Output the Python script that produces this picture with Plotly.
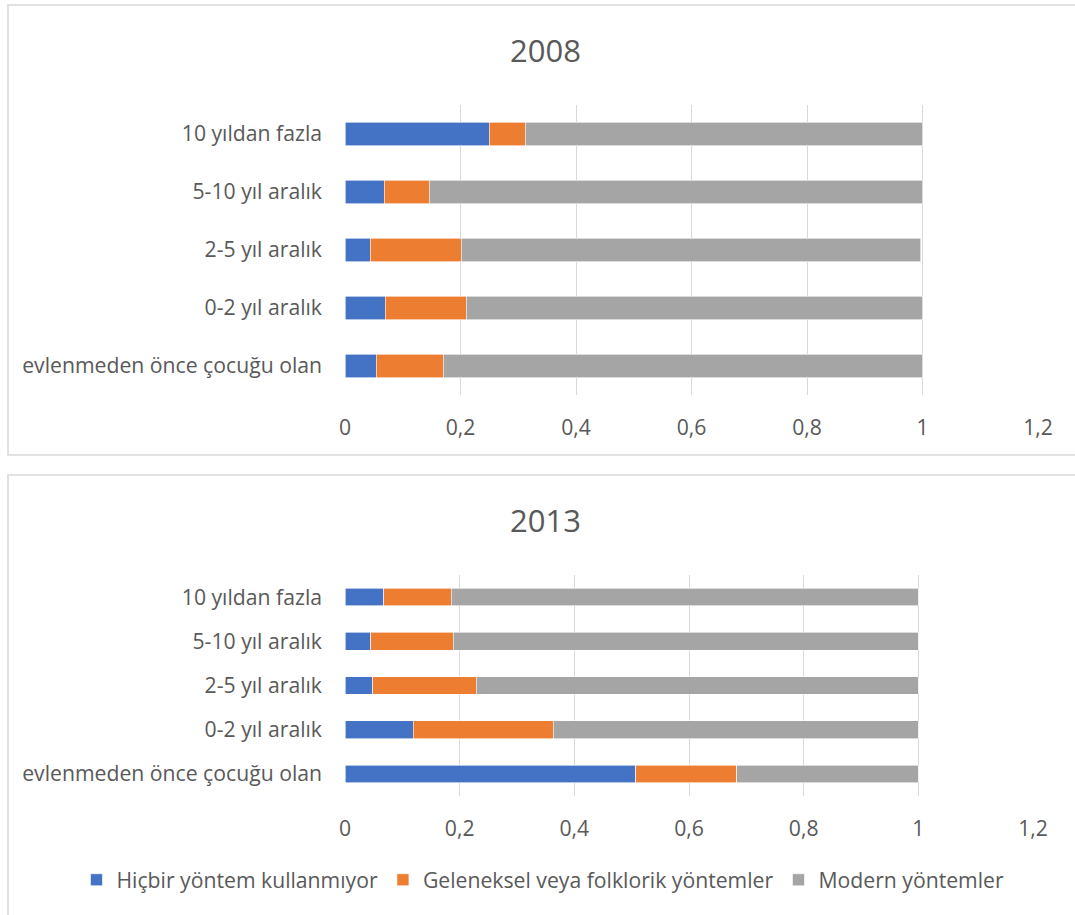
import plotly.graph_objects as go

# ---- data ----
categories = ["evlenmeden önce çocuğu olan", "0-2 yıl aralık", "2-5 yıl aralık",
              "5-10 yıl aralık", "10 yıldan fazla"]
series_names = ["Hiçbir yöntem kullanmıyor", "Geleneksel veya folklorik yöntemler",
                "Modern yöntemler"]

hicbir_2008 = [0.054, 0.070, 0.044, 0.068, 0.250]
geleneksel_2008 = [0.116, 0.140, 0.157, 0.078, 0.062]
modern_2008 = [0.830, 0.790, 0.796, 0.854, 0.688]

hicbir_2013 = [0.507, 0.119, 0.048, 0.045, 0.068]
geleneksel_2013 = [0.176, 0.244, 0.181, 0.144, 0.117]
modern_2013 = [0.317, 0.637, 0.771, 0.811, 0.815]

tick_vals = [0, 0.2, 0.4, 0.6, 0.8, 1.0, 1.2]
tick_text = ["0", "0,2", "0,4", "0,6", "0,8", "1", "1,2"]
titles = ["2008", "2013"]

colors = ["#4472C4", "#ED7D31", "#A5A5A5"]
FONT = "Open Sans"
TXT = "#595959"
W, H = 1075, 915
FS = 21.2

fig = go.Figure()
panels = [
    ("x", "y", [hicbir_2008, geleneksel_2008, modern_2008], True),
    ("x2", "y2", [hicbir_2013, geleneksel_2013, modern_2013], False),
]
for xa, ya, series, show in panels:
    for name, vals, col in zip(series_names, series, colors):
        fig.add_trace(go.Bar(
            y=categories, x=vals, orientation="h", name=name,
            marker=dict(color=col, line=dict(color="white", width=0.6)),
            xaxis=xa, yaxis=ya, showlegend=show, legendgroup=name,
        ))

def px_x(p):
    return p / W

def px_y(p):
    return 1 - p / H

axis_common = dict(
    range=[0, 1.2], tickvals=tick_vals, ticktext=tick_text,
    showgrid=True, gridcolor="#d9d9d9", gridwidth=1.3, zeroline=False,
    showline=False, ticks="", tickfont=dict(family=FONT, size=FS, color=TXT),
    ticklabelstandoff=18, fixedrange=True, automargin=False,
)
yaxis_common = dict(
    categoryorder="array", categoryarray=categories, showgrid=False,
    zeroline=False, showline=False, ticks="",
    tickfont=dict(family=FONT, size=FS, color=TXT), ticklabelstandoff=22,
    fixedrange=True, automargin=False,
)

fig.update_layout(
    width=W, height=H, autosize=False, margin=dict(l=0, r=0, t=0, b=0),
    paper_bgcolor="white", plot_bgcolor="white",
    barmode="stack", bargap=0.6,
    font=dict(family=FONT, color=TXT),
    xaxis=dict(domain=[px_x(345), px_x(1038)], anchor="y", **axis_common),
    yaxis=dict(domain=[px_y(395), px_y(105)], anchor="x", **yaxis_common),
    xaxis2=dict(domain=[px_x(345), px_x(1033)], anchor="y2", **axis_common),
    yaxis2=dict(domain=[px_y(796), px_y(575)], anchor="x2", **yaxis_common),
    legend=dict(orientation="h", x=px_x(543), xanchor="center",
                y=px_y(880), yanchor="middle",
                font=dict(family=FONT, size=FS, color=TXT),
                traceorder="normal"),
    annotations=[
        dict(text=titles[0], x=px_x(545), y=px_y(50), xref="paper", yref="paper",
             xanchor="center", yanchor="middle",
             showarrow=False, font=dict(family=FONT, size=31, color=TXT)),
        dict(text=titles[1], x=px_x(545), y=px_y(520), xref="paper", yref="paper",
             xanchor="center", yanchor="middle",
             showarrow=False, font=dict(family=FONT, size=31, color=TXT)),
    ],
    shapes=[
        dict(type="rect", xref="paper", yref="paper",
             x0=px_x(8), x1=1.05, y0=px_y(455), y1=px_y(5),
             line=dict(color="#d9d9d9", width=1.6)),
        dict(type="rect", xref="paper", yref="paper",
             x0=px_x(8), x1=1.05, y0=-0.05, y1=px_y(475),
             line=dict(color="#d9d9d9", width=1.6)),
    ],
)

fig.write_html("out.html",
               config={"responsive": False, "displayModeBar": False},
               post_script="document.body.style.margin='0';document.body.style.overflow='hidden';")
